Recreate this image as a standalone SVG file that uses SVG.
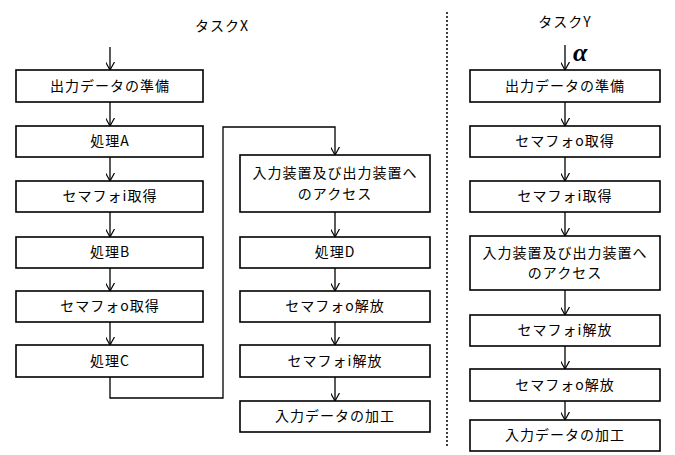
<svg xmlns="http://www.w3.org/2000/svg" width="675" height="455" viewBox="0 0 675 455">
<style>
.b{fill:#fff;stroke:#000;stroke-width:1.6}
.t{font-family:"Noto Sans CJK JP","Liberation Sans",sans-serif;font-size:14px;letter-spacing:1px;text-anchor:middle;fill:#000}
.c{fill:none;stroke:#000;stroke-width:1.3}
</style>
<defs><marker id="a" viewBox="0 0 10 10" refX="9" refY="5" markerWidth="9" markerHeight="9" markerUnits="userSpaceOnUse" orient="auto"><path d="M0,0L9,5L0,10" fill="none" stroke="#000" stroke-width="1.3"/></marker></defs>
<rect width="675" height="455" fill="#fff"/>
<text class="t" x="222" y="31">タスクX</text>
<text class="t" x="565" y="27">タスクY</text>
<text x="573" y="61" font-family="Liberation Serif,serif" font-size="26" font-style="italic" font-weight="bold">α</text>
<line x1="447" y1="12" x2="447" y2="447" stroke="#000" stroke-width="1.5" stroke-dasharray="2,2"/>
<g id="connectors" class="c">
<line x1="110" y1="47" x2="110" y2="70" marker-end="url(#a)"/>
<line x1="110" y1="102" x2="110" y2="126" marker-end="url(#a)"/>
<line x1="110" y1="157" x2="110" y2="181" marker-end="url(#a)"/>
<line x1="110" y1="212" x2="110" y2="237" marker-end="url(#a)"/>
<line x1="110" y1="268" x2="110" y2="291" marker-end="url(#a)"/>
<line x1="110" y1="322" x2="110" y2="345" marker-end="url(#a)"/>
<polyline points="110,377 110,398 223,398 223,127 335,127 335,155" marker-end="url(#a)"/>
<line x1="335" y1="212" x2="335" y2="237" marker-end="url(#a)"/>
<line x1="335" y1="268" x2="335" y2="291" marker-end="url(#a)"/>
<line x1="335" y1="322" x2="335" y2="345" marker-end="url(#a)"/>
<line x1="335" y1="377" x2="335" y2="401" marker-end="url(#a)"/>
<line x1="565" y1="45" x2="565" y2="70" marker-end="url(#a)"/>
<line x1="565" y1="102" x2="565" y2="126" marker-end="url(#a)"/>
<line x1="565" y1="157" x2="565" y2="181" marker-end="url(#a)"/>
<line x1="565" y1="212" x2="565" y2="236" marker-end="url(#a)"/>
<line x1="565" y1="290" x2="565" y2="315" marker-end="url(#a)"/>
<line x1="565" y1="346" x2="565" y2="369" marker-end="url(#a)"/>
<line x1="565" y1="401" x2="565" y2="420" marker-end="url(#a)"/>
</g>
<g id="x1"><rect class="b" x="16" y="70" width="187" height="32"/><text class="t" x="110" y="91">出力データの準備</text></g>
<g id="x2"><rect class="b" x="16" y="126" width="187" height="31"/><text class="t" x="110" y="146">処理A</text></g>
<g id="x3"><rect class="b" x="16" y="181" width="187" height="31"/><text class="t" x="110" y="201">セマフォi取得</text></g>
<g id="x4"><rect class="b" x="16" y="237" width="187" height="31"/><text class="t" x="110" y="257">処理B</text></g>
<g id="x5"><rect class="b" x="16" y="291" width="187" height="31"/><text class="t" x="110" y="311">セマフォo取得</text></g>
<g id="x6"><rect class="b" x="16" y="345" width="187" height="32"/><text class="t" x="110" y="366">処理C</text></g>
<g id="m1"><rect class="b" x="240" y="155" width="190" height="57"/><text class="t" x="335" y="178">入力装置及び出力装置へ</text><text class="t" x="335" y="199">のアクセス</text></g>
<g id="m2"><rect class="b" x="240" y="237" width="190" height="31"/><text class="t" x="335" y="257">処理D</text></g>
<g id="m3"><rect class="b" x="240" y="291" width="190" height="31"/><text class="t" x="335" y="311">セマフォo解放</text></g>
<g id="m4"><rect class="b" x="240" y="345" width="190" height="32"/><text class="t" x="335" y="366">セマフォi解放</text></g>
<g id="m5"><rect class="b" x="240" y="401" width="190" height="31"/><text class="t" x="335" y="421">入力データの加工</text></g>
<g id="y1"><rect class="b" x="470" y="70" width="190" height="32"/><text class="t" x="565" y="91">出力データの準備</text></g>
<g id="y2"><rect class="b" x="470" y="126" width="190" height="31"/><text class="t" x="565" y="146">セマフォo取得</text></g>
<g id="y3"><rect class="b" x="470" y="181" width="190" height="31"/><text class="t" x="565" y="201">セマフォi取得</text></g>
<g id="y4"><rect class="b" x="470" y="236" width="190" height="54"/><text class="t" x="565" y="258">入力装置及び出力装置へ</text><text class="t" x="565" y="278">のアクセス</text></g>
<g id="y5"><rect class="b" x="470" y="315" width="190" height="31"/><text class="t" x="565" y="335">セマフォi解放</text></g>
<g id="y6"><rect class="b" x="470" y="369" width="190" height="32"/><text class="t" x="565" y="390">セマフォo解放</text></g>
<g id="y7"><rect class="b" x="470" y="420" width="190" height="31"/><text class="t" x="565" y="440">入力データの加工</text></g>
</svg>
